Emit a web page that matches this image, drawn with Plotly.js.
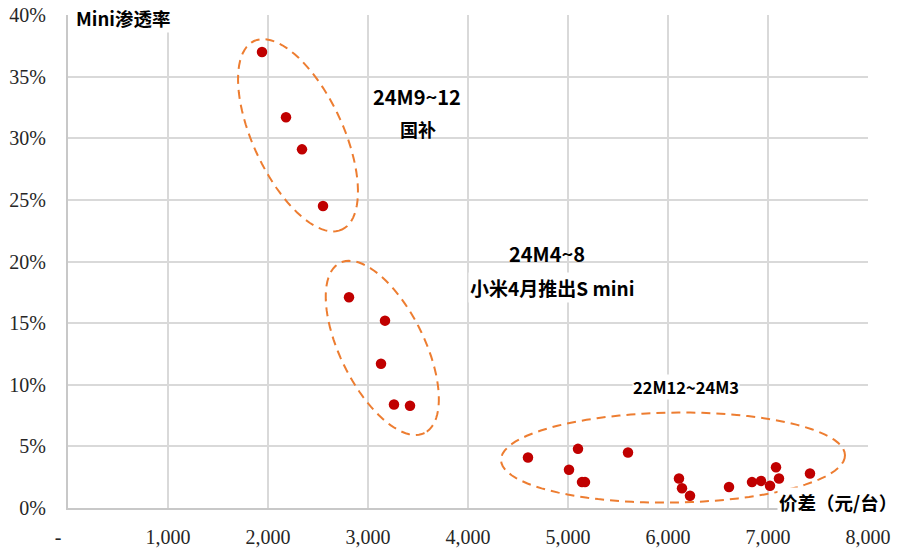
<!DOCTYPE html>
<html>
<head>
<meta charset="utf-8">
<script src="https://cdn.plot.ly/plotly-3.0.1.min.js"></script>
<style>html,body{margin:0;padding:0;background:#fff;}#chart{width:902px;height:548px;}</style>
</head>
<body>
<div id="chart"></div>
<script>
// Price gap (yuan/unit) and Mini penetration rate, by period cluster
const xSubsidy = [1940, 2180, 2340, 2550];            // 24M9~12 国补
const ySubsidy = [0.370, 0.317, 0.291, 0.245];
const xXiaomi  = [2810, 3170, 3130, 3260, 3420];      // 24M4~8
const yXiaomi  = [0.171, 0.152, 0.117, 0.084, 0.083];
const xEarly   = [4600, 5100, 5010, 5140, 5170, 5600, 6110, 6140, 6220, 6610, 6840, 6930, 7020, 7080, 7110, 7420]; // 22M12~24M3
const yEarly   = [0.041, 0.048, 0.031, 0.021, 0.021, 0.045, 0.024, 0.016, 0.010, 0.017, 0.021, 0.022, 0.018, 0.033, 0.024, 0.028];

const xTickVals = [0, 1000, 2000, 3000, 4000, 5000, 6000, 7000, 8000];
const xTickText = ['-\u2002\u2002', '1,000', '2,000', '3,000', '4,000', '5,000', '6,000', '7,000', '8,000'];
const yTickVals = [0, 0.05, 0.10, 0.15, 0.20, 0.25, 0.30, 0.35, 0.40];

const labelSubsidy = '24M9~12';
const labelSubsidy2 = '国补';
const labelXiaomi = '24M4~8';
const labelXiaomi2 = '小米4月推出S mini';
const labelEarly = '22M12~24M3';
const yTitle = 'Mini渗透率';
const xTitle = '价差（元/台）';

// plot geometry
const W = 902, H = 548;
const M = {l: 68, r: 34, t: 15, b: 40};
const XR = [0, 8000], YR = [0, 0.4];
const pw = W - M.l - M.r, ph = H - M.t - M.b;
const dxPerPx = (XR[1] - XR[0]) / pw, dyPerPx = (YR[1] - YR[0]) / ph;

// ellipse outlines: centre in data units, semi-axes in px, angle in degrees (screen)
function ellipsePath(cx, cy, a, b, deg) {
  const th = deg * Math.PI / 180, n = 90;
  let p = '';
  for (let i = 0; i <= n; i++) {
    const t = 2 * Math.PI * i / n;
    const ox = a * Math.cos(th) * Math.cos(t) - b * Math.sin(th) * Math.sin(t);
    const oy = a * Math.sin(th) * Math.cos(t) + b * Math.cos(th) * Math.sin(t);
    p += (i === 0 ? 'M' : 'L') + (cx + ox * dxPerPx).toFixed(2) + ',' + (cy - oy * dyPerPx).toFixed(5);
  }
  return p + 'Z';
}
const ellLine = {color: '#ED7D31', width: 2, dash: '9px,6px'};
const shapes = [
  {type: 'path', xref: 'x', yref: 'y', path: ellipsePath(2300, 0.3024, 104, 45, 65), line: ellLine},
  {type: 'path', xref: 'x', yref: 'y', path: ellipsePath(3143, 0.1299, 95, 42, 63.6), line: ellLine},
  {type: 'path', xref: 'x', yref: 'y', path: ellipsePath(6050, 0.0409, 172, 45, -0.8), line: ellLine}
];

const marker = {color: '#C00000', size: 10.5};
const traces = [
  {x: xSubsidy, y: ySubsidy, type: 'scatter', mode: 'markers', marker: marker, hoverinfo: 'x+y'},
  {x: xXiaomi, y: yXiaomi, type: 'scatter', mode: 'markers', marker: marker, hoverinfo: 'x+y'},
  {x: xEarly, y: yEarly, type: 'scatter', mode: 'markers', marker: marker, hoverinfo: 'x+y'}
];

const cjk = '"Noto Sans CJK SC", "Noto Sans", sans-serif';
const bold = (s) => '<b>' + s + '</b>';
const f = (size) => ({family: cjk, size: size, color: '#000'});
const tickFont = {family: '"Liberation Serif", "Times New Roman", serif', size: 20, color: '#262626'};

const layout = {
  width: W, height: H,
  margin: M,
  paper_bgcolor: '#fff', plot_bgcolor: '#fff',
  showlegend: false,
  font: tickFont,
  xaxis: {
    range: XR, tickvals: xTickVals, ticktext: xTickText,
    showgrid: true, gridcolor: '#d9d9d9', gridwidth: 2,
    showline: true, linecolor: '#c8c8c8', linewidth: 2,
    zeroline: false, ticks: '', ticklabelstandoff: 10,
    tickfont: tickFont
  },
  yaxis: {
    range: YR, tickvals: yTickVals, tickformat: '.0%',
    showgrid: true, gridcolor: '#d9d9d9', gridwidth: 2,
    showline: true, linecolor: '#c8c8c8', linewidth: 2,
    zeroline: false, ticks: '', ticklabelstandoff: 16,
    tickfont: tickFont
  },
  shapes: shapes,
  annotations: [
    {xref: 'paper', yref: 'paper', x: 0.008, y: 1.0, xanchor: 'left', yanchor: 'middle', yshift: -3,
     text: bold(yTitle), showarrow: false, font: f(18.5), bgcolor: '#fff', borderpad: 1},
    {xref: 'paper', yref: 'paper', x: 1.039, y: 0, xanchor: 'right', yanchor: 'middle', yshift: 6,
     text: bold(xTitle), showarrow: false, font: f(18.5), bgcolor: '#fff', borderpad: 1},
    {xref: 'x', yref: 'y', x: 3490, y: 0.3336, text: bold(labelSubsidy), showarrow: false, font: f(20)},
    {xref: 'x', yref: 'y', x: 3500, y: 0.3077, text: bold(labelSubsidy2), showarrow: false, font: f(18)},
    {xref: 'x', yref: 'y', x: 4790, y: 0.2063, text: bold(labelXiaomi), showarrow: false, font: f(20)},
    {xref: 'x', yref: 'y', x: 4840, y: 0.1790, text: bold(labelXiaomi2), showarrow: false, font: f(19), bgcolor: '#fff', borderpad: 1},
    {xref: 'x', yref: 'y', x: 6180, y: 0.0985, text: bold(labelEarly), showarrow: false,
     font: f(16.5), bgcolor: '#fff', borderpad: 0}
  ]
};

Plotly.newPlot('chart', traces, layout, {displayModeBar: false, staticPlot: true});
</script>
</body>
</html>
